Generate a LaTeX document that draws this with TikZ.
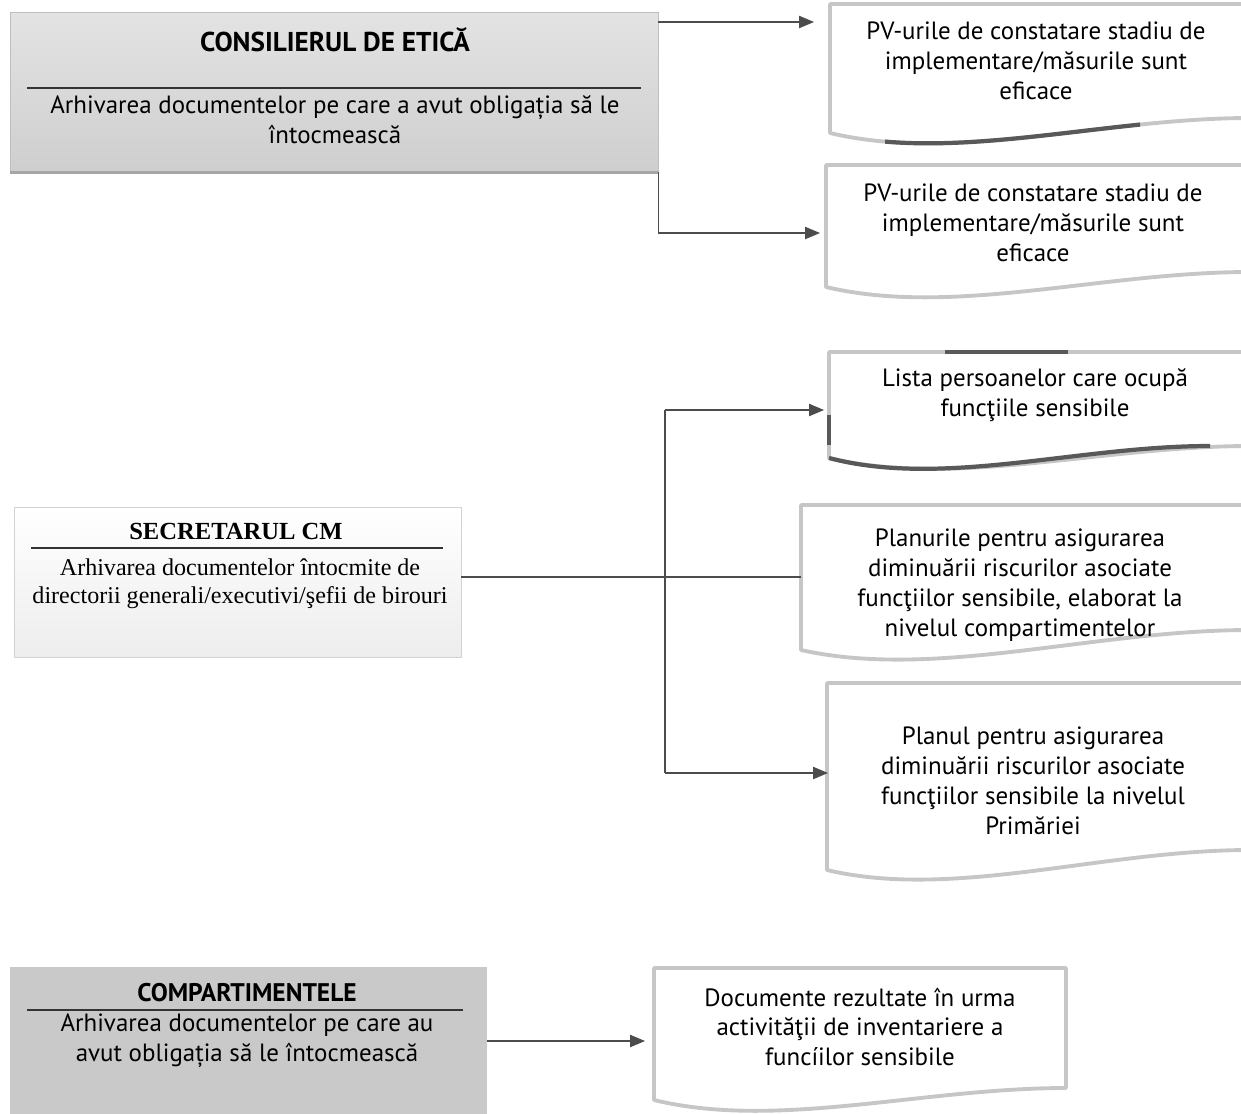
\documentclass[tikz,border=0pt]{standalone}
\usepackage{fontspec}
\setmainfont{PT Sans}
\newfontfamily\timesfont{Liberation Serif}
\usetikzlibrary{arrows.meta,calc,positioning}

\tikzset{
  doc/.style={draw=gray!45, line width=2.2pt, line join=round},
  docdark/.style={draw=black!65, line width=2.4pt},
  txt/.style={align=center, font=\fontsize{14.2}{17}\selectfont},
  ttl/.style={align=center, font=\fontsize{15.5}{17}\selectfont\bfseries},
  stxt/.style={align=center, font=\timesfont\fontsize{13.7}{16}\selectfont},
  sttl/.style={align=center, font=\timesfont\fontsize{14}{16}\selectfont\bfseries},
  rule/.style={draw=black!80, line width=0.8pt},
  conn/.style={draw=black!70, line width=0.6pt},
  arr/.style={conn, -{Triangle[length=8.5pt,width=7pt]}},
}

% document shape: left, top, right, bottom left, bottom right
\newcommand{\docshape}[6][doc]{%
  \draw[#1] (#2,#3) -- (#4,#3) -- (#4,#6)
    .. controls ({#4-0.35*(#4-#2)},#6) and ({#2+0.3*(#4-#2)},{#5+30}) .. (#2,#5) -- cycle;}
\newcommand{\docfoot}[6][docdark]{%
  \draw[#1] (#4,#6)
    .. controls ({#4-0.35*(#4-#2)},#6) and ({#2+0.3*(#4-#2)},{#5+30}) .. (#2,#5);}

\begin{document}
\begin{tikzpicture}[x=0.02cm, y=-0.02cm]
\useasboundingbox (0,0) rectangle (1241,1113);

% consilierul de etica
\node[draw=gray!50, top color=gray!22, bottom color=gray!38, minimum width=12.96cm, minimum height=3.2cm] (cons) at (334,92) {};
\draw[gray!70, line width=1.5pt] (cons.south west) -- (cons.south east);
\node[ttl] (consT) at (335,40) {CONSILIERUL DE ETICĂ};
\draw[rule] (27,88) -- (641,88);
\node[txt] (consA) at (335,120) {Arhivarea documentelor pe care a avut obligația să le\\întocmească};

\docshape{830}{4}{1250}{133}{118}
\begin{scope}
\clip (885,100) rectangle (1140,170);
\docfoot{830}{4}{1250}{133}{118}
\end{scope}
\node[txt] (pv1) at (1036,61) {PV-urile de constatare stadiu de\\implementare/măsurile sunt\\eficace};

\docshape{826}{165}{1250}{287}{272}
\node[txt] (pv2) at (1033,223) {PV-urile de constatare stadiu de\\implementare/măsurile sunt\\eficace};

\coordinate (t1) at (814,22);
\coordinate (t2) at (820,233);
\draw[arr] (cons.east |- t1) -- (t1);
\draw[arr] (cons.south east) |- (t2);

% secretarul cm
\node[draw=gray!35, top color=white, bottom color=gray!14, minimum width=8.94cm, minimum height=3cm] (secr) at (237.5,582) {};
\node[sttl] (secrT) at (236,531) {SECRETARUL CM};
\draw[rule] (31,548) -- (443,548);
\node[stxt] (secrA) at (240,584) {Arhivarea documentelor întocmite de\\directorii generali/executivi/şefii de birouri};

\docshape{829}{352}{1250}{458}{446}
\docfoot{829}{352}{1210}{458}{446}
\draw[docdark] (945,352) -- (1068,352);
\draw[docdark] (829,415) -- (829,445);
\node[txt] (lista) at (1035,395) {Lista persoanelor care ocupă\\funcţiile sensibile};

\docshape{801}{505}{1250}{650}{630}
\node[txt] (plan1) at (1020,585) {Planurile pentru asigurarea\\diminuării riscurilor asociate\\funcţiilor sensibile, elaborat la\\nivelul compartimentelor};

\docshape{827}{683}{1250}{870}{850}
\node[txt] (plan2) at (1033,781) {Planul pentru asigurarea\\diminuării riscurilor asociate\\funcţiilor sensibile la nivelul\\Primăriei};

\coordinate (j) at (665,577);
\coordinate (t3) at (824,410);
\coordinate (t4) at (801,577);
\coordinate (t5) at (828,773);
\draw[conn] (secr.east |- j) -- (t4);
\draw[conn] (j |- t3) -- (j |- t5);
\draw[arr] (j |- t3) -- (t3);
\draw[arr] (j |- t5) -- (t5);

% compartimentele
\node[fill=gray!42, minimum width=9.54cm, minimum height=2.96cm] (comp) at (248.5,1041) {};
\node[ttl, font=\fontsize{14.5}{17}\selectfont\bfseries] (compT) at (247,993) {COMPARTIMENTELE};
\draw[rule] (27,1010) -- (463,1010);
\node[txt] (compA) at (247,1041) {Arhivarea documentelor pe care au\\avut obligația să le întocmească};

\docshape{654}{968}{1066}{1100}{1088}
\node[txt] (docs) at (860,1027) {Documente rezultate în urma\\activităţii de inventariere a\\funcíilor sensibile};

\coordinate (t6) at (645,1041);
\draw[arr] (comp.east |- t6) -- (t6);
\end{tikzpicture}
\end{document}
